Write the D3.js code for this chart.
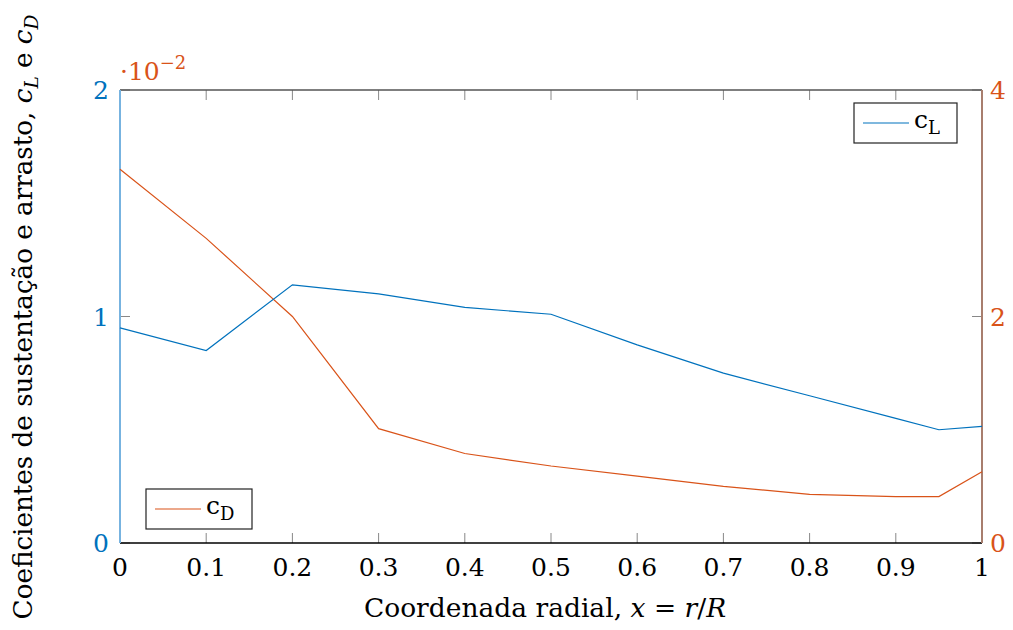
<!DOCTYPE html>
<html><head><meta charset="utf-8">
<script src="https://cdn.jsdelivr.net/npm/d3@7"></script>
<style>body{margin:0;background:#fff}svg{display:block}text{font-family:"DejaVu Serif",serif}</style>
</head><body><svg id="c" width="1013" height="630"></svg>
<script>
const xVals = [0, 0.1, 0.2, 0.3, 0.4, 0.5, 0.6, 0.7, 0.8, 0.9, 0.95, 1];
const cL = [0.95, 0.85, 1.14, 1.10, 1.04, 1.01, 0.875, 0.75, 0.65, 0.55, 0.50, 0.515];
const cD = [0.0330, 0.0269, 0.0200, 0.0101, 0.0079, 0.0068, 0.0059, 0.0050, 0.0043, 0.0041, 0.0041, 0.0063];
const xTicks = [0, 0.1, 0.2, 0.3, 0.4, 0.5, 0.6, 0.7, 0.8, 0.9, 1];
const leftTicks = [0, 1, 2];
const rightTicks = [0, 0.02, 0.04];

const blue = "#0072BD", orange = "#D95319";
const svg = d3.select("#c");
const L = 120, R = 982, T = 90, B = 543;
const x = d3.scaleLinear().domain([0, 1]).range([L, R]);
const yL = d3.scaleLinear().domain([0, 2]).range([B, T]);
const yR = d3.scaleLinear().domain([0, 0.04]).range([B, T]);
const fs = 25;

const g = svg.append("g");
xTicks.forEach(t => {
  g.append("line").attr("x1", x(t)).attr("x2", x(t)).attr("y1", B).attr("y2", B - 10).attr("stroke", "#888").attr("stroke-width", 1);
  g.append("line").attr("x1", x(t)).attr("x2", x(t)).attr("y1", T).attr("y2", T + 10).attr("stroke", "#888").attr("stroke-width", 1);
  g.append("text").attr("x", x(t)).attr("y", 576).attr("text-anchor", "middle").attr("font-size", fs).attr("fill", "#000").text(t === 0 ? "0" : t === 1 ? "1" : d3.format(".1f")(t));
});
leftTicks.forEach(t => {
  g.append("line").attr("x1", L).attr("x2", L + 10).attr("y1", yL(t)).attr("y2", yL(t)).attr("stroke", "#888");
  g.append("text").attr("x", 109).attr("y", yL(t) + 9).attr("text-anchor", "end").attr("font-size", fs).attr("fill", blue).text(t);
});
rightTicks.forEach(t => {
  g.append("line").attr("x1", R - 10).attr("x2", R).attr("y1", yR(t)).attr("y2", yR(t)).attr("stroke", "#888");
  g.append("text").attr("x", 990).attr("y", yR(t) + 9).attr("text-anchor", "start").attr("font-size", fs).attr("fill", orange).text(Math.round(t * 100));
});

svg.append("line").attr("x1", L).attr("x2", R).attr("y1", T).attr("y2", T).attr("stroke", "#555").attr("stroke-width", 1.5);
svg.append("line").attr("x1", L).attr("x2", R).attr("y1", B).attr("y2", B).attr("stroke", "#000").attr("stroke-width", 1.5);
svg.append("line").attr("x1", L).attr("x2", L).attr("y1", T).attr("y2", B).attr("stroke", "#77B3E0").attr("stroke-width", 2);
svg.append("line").attr("x1", R).attr("x2", R).attr("y1", T).attr("y2", B).attr("stroke", "#A87E6E").attr("stroke-width", 2);

const data = xVals.map((v, i) => ({x: v, l: cL[i], d: cD[i]}));
svg.append("path").datum(data).attr("fill", "none").attr("stroke", orange).attr("stroke-width", 1.2)
  .attr("d", d3.line().x(d => x(d.x)).y(d => yR(d.d)));
svg.append("path").datum(data).attr("fill", "none").attr("stroke", blue).attr("stroke-width", 1.2)
  .attr("d", d3.line().x(d => x(d.x)).y(d => yL(d.l)));

const ex = svg.append("text").attr("x", 120).attr("y", 80).attr("font-size", fs).attr("fill", orange);
ex.append("tspan").text("·10");
ex.append("tspan").attr("dy", -11).attr("font-size", 18).text("−2");

function legend(x0, y0, w, h, col, sub) {
  const lg = svg.append("g");
  lg.append("rect").attr("x", x0).attr("y", y0).attr("width", w).attr("height", h).attr("fill", "#fff").attr("stroke", "#222").attr("stroke-width", 1.2);
  lg.append("line").attr("x1", x0 + 9).attr("x2", x0 + 55).attr("y1", y0 + h / 2).attr("y2", y0 + h / 2).attr("stroke", col).attr("stroke-width", 1.2);
  const t = lg.append("text").attr("x", x0 + 60).attr("y", y0 + 25).attr("font-size", fs).attr("fill", "#000");
  t.append("tspan").text("c");
  t.append("tspan").attr("dy", 6).attr("font-size", 18).text(sub);
}
legend(854, 103, 103, 40, blue, "L");
legend(146, 489, 106, 40, orange, "D");

const xl = svg.append("text").attr("x", 545).attr("y", 617).attr("text-anchor", "middle").attr("font-size", 26.5).attr("fill", "#000");
xl.append("tspan").text("Coordenada radial, ");
xl.append("tspan").attr("font-style", "italic").text("x");
xl.append("tspan").text(" = ");
xl.append("tspan").attr("font-style", "italic").text("r");
xl.append("tspan").text("/");
xl.append("tspan").attr("font-style", "italic").text("R");

const yl = svg.append("text").attr("transform", "translate(32,317) rotate(-90)").attr("text-anchor", "middle").attr("font-size", 26.2).attr("fill", "#000");
yl.append("tspan").text("Coeficientes de sustentação e arrasto, ");
yl.append("tspan").attr("font-style", "italic").text("c");
yl.append("tspan").attr("font-style", "italic").attr("dy", 6).attr("font-size", 18.5).text("L");
yl.append("tspan").attr("dy", -6).text(" e ");
yl.append("tspan").attr("font-style", "italic").text("c");
yl.append("tspan").attr("font-style", "italic").attr("dy", 6).attr("font-size", 18.5).text("D");
</script></body></html>
